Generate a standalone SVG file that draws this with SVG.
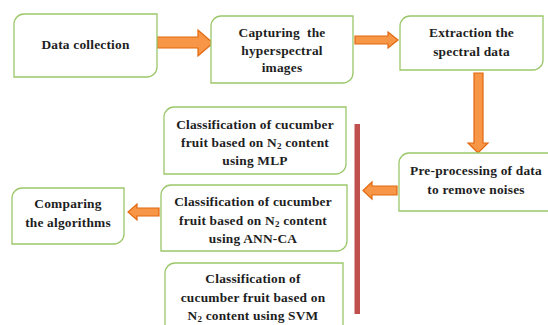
<svg xmlns="http://www.w3.org/2000/svg" width="548" height="325" viewBox="0 0 548 325">
  <style>
    .box { fill: #ffffff; stroke: #9bc76a; stroke-width: 1.3; }
    .lbl { font-family: "Liberation Serif", "Times New Roman", serif; font-weight: bold; font-size: 13.4px; letter-spacing: 0.2px; fill: #1e1e1e; text-anchor: middle; }
    .sub { font-size: 9px; }
    .arw { fill: #f79646; stroke: #e2680f; stroke-width: 1.2; stroke-linejoin: miter; }
  </style>
  <rect width="548" height="325" fill="#ffffff"/>

  <!-- connectors -->
  <g id="connectors">
    <path class="arw" d="M157,37 H198 V30 L213,43 L198,56 V48 H157 Z" stroke-width="2"/>
    <path class="arw" d="M355,36 H388 V32 L398,40 L388,48 V44 H355 Z"/>
    <path class="arw" d="M474,73 H483 V143 H488 L478,153 L468,143 H474 Z"/>
    <path class="arw" d="M397,186 H372 V182 L363,190.5 L372,199 V195 H397 Z"/>
    <path class="arw" d="M159,208 H137 V204 L128,212 L137,220 V216 H159 Z"/>
    <rect x="354.5" y="124" width="5.5" height="190" fill="#c0504d"/>
  </g>

  <!-- nodes: rectangles with top-left and bottom-right corners rounded -->
  <g id="data-collection">
    <path class="box" d="M24,14 H157 V67 A10,10 0 0 1 147,77 H14 V24 A10,10 0 0 1 24,14 Z"/>
    <text class="lbl" x="85.5" y="49">Data collection</text>
  </g>

  <g id="capturing">
    <path class="box" d="M221,16 H353 V73 A10,10 0 0 1 343,83 H211 V26 A10,10 0 0 1 221,16 Z"/>
    <text class="lbl" x="282" y="37" style="white-space:pre">Capturing  the</text>
    <text class="lbl" x="282" y="55">hyperspectral</text>
    <text class="lbl" x="282" y="72">images</text>
  </g>

  <g id="extraction">
    <path class="box" d="M410,16 H543 V60 A10,10 0 0 1 533,70 H400 V26 A10,10 0 0 1 410,16 Z"/>
    <text class="lbl" x="471.5" y="37">Extraction the</text>
    <text class="lbl" x="471.5" y="56">spectral data</text>
  </g>

  <g id="pre-processing">
    <path class="box" d="M409,153 H552 V211 H399 V163 A10,10 0 0 1 409,153 Z"/>
    <text class="lbl" x="476" y="175">Pre-processing of data</text>
    <text class="lbl" x="476" y="194">to remove noises</text>
  </g>

  <g id="mlp">
    <path class="box" d="M174,107 H346 V164 A10,10 0 0 1 336,174 H164 V117 A10,10 0 0 1 174,107 Z"/>
    <text class="lbl" x="255" y="129">Classification of cucumber</text>
    <text class="lbl" x="255" y="147">fruit based on N<tspan class="sub" dy="2">2</tspan><tspan dy="-2"> content</tspan></text>
    <text class="lbl" x="255" y="165">using MLP</text>
  </g>

  <g id="ann-ca">
    <path class="box" d="M171,185 H347 V241 A10,10 0 0 1 337,251 H161 V195 A10,10 0 0 1 171,185 Z"/>
    <text class="lbl" x="253" y="206">Classification of cucumber</text>
    <text class="lbl" x="253" y="225">fruit based on N<tspan class="sub" dy="2">2</tspan><tspan dy="-2"> content</tspan></text>
    <text class="lbl" x="253" y="243">using ANN-CA</text>
  </g>

  <g id="svm">
    <path class="box" d="M175,263 H343 V330 H165 V273 A10,10 0 0 1 175,263 Z"/>
    <text class="lbl" x="253" y="283">Classification of</text>
    <text class="lbl" x="253" y="302">cucumber fruit based on</text>
    <text class="lbl" x="253" y="320">N<tspan class="sub" dy="2">2</tspan><tspan dy="-2"> content using SVM</tspan></text>
  </g>

  <g id="comparing">
    <path class="box" d="M22,188 H124 V234 A10,10 0 0 1 114,244 H12 V198 A10,10 0 0 1 22,188 Z"/>
    <text class="lbl" x="68" y="208">Comparing</text>
    <text class="lbl" x="68" y="227">the algorithms</text>
  </g>
</svg>
